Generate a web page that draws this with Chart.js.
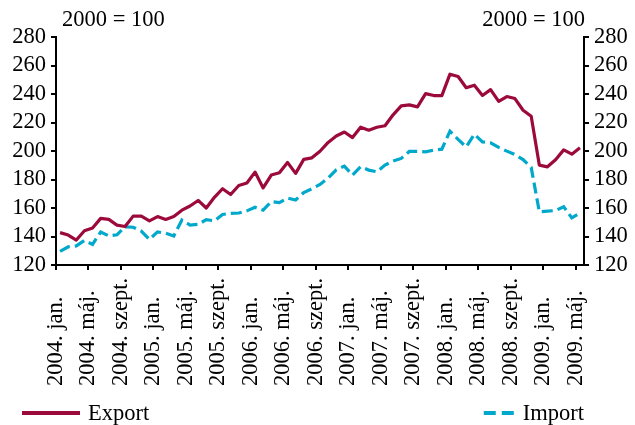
<!DOCTYPE html>
<html>
<head>
<meta charset="utf-8">
<script src="https://cdn.jsdelivr.net/npm/chart.js@4.4.1/dist/chart.umd.min.js"></script>
<style>
  html, body { margin: 0; padding: 0; background: #ffffff; }
  #wrap { position: relative; width: 635px; height: 425px; }
</style>
</head>
<body>
<div id="wrap"><canvas id="c" width="635" height="425"></canvas></div>
<script>
// ---- data ----
const years = [2004, 2005, 2006, 2007, 2008, 2009];
const monthNames = ['jan.', 'febr.', 'márc.', 'ápr.', 'máj.', 'jún.', 'júl.', 'aug.', 'szept.', 'okt.', 'nov.', 'dec.'];
const categories = [];
years.forEach(y => monthNames.forEach(m => { if (categories.length < 65) categories.push(y + '. ' + m); }));

const tickLabels = ['2004. jan.', '2004. máj.', '2004. szept.', '2005. jan.', '2005. máj.', '2005. szept.',
  '2006. jan.', '2006. máj.', '2006. szept.', '2007. jan.', '2007. máj.', '2007. szept.',
  '2008. jan.', '2008. máj.', '2008. szept.', '2009. jan.', '2009. máj.'];

const exportValues = [142.7, 141, 137.5, 144, 146, 152.7, 152, 148, 147, 154.3, 154.3, 151,
  154, 152, 154, 158.5, 161.4, 165.3, 160, 167.5, 173.5, 169.5, 175.8, 177.5,
  185.2, 174.1, 183.1, 184.7, 192, 184.3, 194.1, 195.2, 199.8, 206, 210.5, 213.3,
  209.4, 216.7, 214.6, 216.7, 217.7, 225.4, 231.7, 232.4, 231, 240.3, 238.9, 238.9,
  253.9, 252.3, 244.4, 246.2, 239, 243.1, 234.8, 238.2, 236.8, 228.6, 224.4, 190.1,
  188.9, 193.9, 200.8, 197.8, 202.3];

const importValues = [129.5, 132.8, 133.4, 137.2, 134.5, 143.2, 140.4, 141.2, 146.8, 146.5, 143.8, 138,
  143.2, 142.3, 140.4, 151.5, 148, 148.5, 151.8, 151, 155.5, 156.2, 156.5, 158,
  160.5, 158.5, 164.5, 163.8, 167, 165.6, 170.8, 173.5, 176.5, 181, 186.8, 189.4,
  183.1, 188.9, 186.6, 185.4, 190.1, 192.9, 194.8, 199.7, 199.8, 199.4, 200.6, 201.3,
  213.9, 208.1, 202.9, 211.8, 206.4, 205.7, 202.5, 199.9, 197.5, 194, 188.5, 157.4,
  157.8, 158.2, 160.9, 153, 156.5];

const yTicks = [120, 140, 160, 180, 200, 220, 240, 260, 280];
const unitLabel = '2000 = 100';
const seriesNames = ['Export', 'Import'];

// ---- style ----
const EXPORT_COLOR = '#9C0A3C';
const IMPORT_COLOR = '#00A9CB';
const FONT = '"Liberation Serif", "Times New Roman", serif';
const FSIZE = 22.5;

const overlay = {
  id: 'overlay',
  afterDraw(chart) {
    const ctx = chart.ctx;
    const xs = chart.scales.x;
    const half = (xs.getPixelForValue(1) - xs.getPixelForValue(0)) / 2;
    ctx.save();
    ctx.fillStyle = '#000';
    ctx.font = FSIZE + 'px ' + FONT;
    // x tick labels, rotated, anchored at bottom
    tickLabels.forEach(lab => {
      const i = categories.indexOf(lab);
      const x = xs.getPixelForValue(i) - half;
      ctx.save();
      ctx.translate(x, 386);
      ctx.rotate(-Math.PI / 2);
      ctx.textAlign = 'left';
      ctx.textBaseline = 'middle';
      ctx.fillText(lab, 0, 0);
      ctx.restore();
    });
    // unit labels
    ctx.textBaseline = 'middle';
    ctx.textAlign = 'left';
    ctx.fillText(unitLabel, 62, 20);
    ctx.textAlign = 'right';
    ctx.fillText(unitLabel, 585, 20);
    // legend
    ctx.lineWidth = 4;
    ctx.strokeStyle = EXPORT_COLOR;
    ctx.beginPath(); ctx.moveTo(22, 413); ctx.lineTo(80, 413); ctx.stroke();
    ctx.textAlign = 'left';
    ctx.fillText(seriesNames[0], 88, 414);
    const impW = ctx.measureText(seriesNames[1]).width;
    const impRight = 584;
    const dashEnd = impRight - impW - 9;
    ctx.strokeStyle = IMPORT_COLOR;
    ctx.setLineDash([12, 6]);
    ctx.beginPath(); ctx.moveTo(dashEnd - 30, 413); ctx.lineTo(dashEnd, 413); ctx.stroke();
    ctx.setLineDash([]);
    ctx.textAlign = 'right';
    ctx.fillText(seriesNames[1], impRight, 414);
    ctx.restore();
  }
};

const gridTicks = {
  display: true,
  drawOnChartArea: false,
  drawTicks: true,
  tickLength: 5,
  color: '#000',
  lineWidth: 2
};

const yTickOpts = { color: '#000', padding: 5, autoSkip: false, font: { family: FONT, size: FSIZE } };

new Chart(document.getElementById('c'), {
  type: 'line',
  data: {
    labels: categories,
    datasets: [
      {
        label: seriesNames[0],
        data: exportValues,
        borderColor: EXPORT_COLOR,
        borderWidth: 3.2,
        pointRadius: 0,
        tension: 0,
        borderJoinStyle: 'round',
        fill: false,
        yAxisID: 'y'
      },
      {
        label: seriesNames[1],
        data: importValues,
        borderColor: IMPORT_COLOR,
        borderWidth: 3.2,
        borderDash: [11, 5],
        pointRadius: 0,
        tension: 0,
        fill: false,
        yAxisID: 'y'
      }
    ]
  },
  options: {
    responsive: false,
    animation: false,
    devicePixelRatio: 1,
    layout: { padding: { top: 37, left: 0, right: 0, bottom: 0 } },
    plugins: { legend: { display: false }, tooltip: { enabled: false } },
    scales: {
      x: {
        type: 'category',
        offset: true,
        grid: Object.assign({}, gridTicks, {
          offset: true,
          color: c => (c.index % 4 === 0 ? '#000' : 'rgba(0,0,0,0)')
        }),
        border: { display: true, color: '#000', width: 2 },
        ticks: { display: false, autoSkip: false },
        afterFit: s => { s.height = 160; }
      },
      y: {
        position: 'left',
        min: 120, max: 280,
        afterBuildTicks: s => { s.ticks = yTicks.map(v => ({ value: v })); },
        grid: gridTicks,
        border: { display: true, color: '#000', width: 2 },
        ticks: yTickOpts,
        afterFit: s => { s.width = 56; }
      },
      y2: {
        position: 'right',
        min: 120, max: 280,
        afterBuildTicks: s => { s.ticks = yTicks.map(v => ({ value: v })); },
        grid: gridTicks,
        border: { display: true, color: '#000', width: 2 },
        ticks: yTickOpts,
        afterFit: s => { s.width = 51; }
      }
    }
  },
  plugins: [overlay]
});
</script>
</body>
</html>
